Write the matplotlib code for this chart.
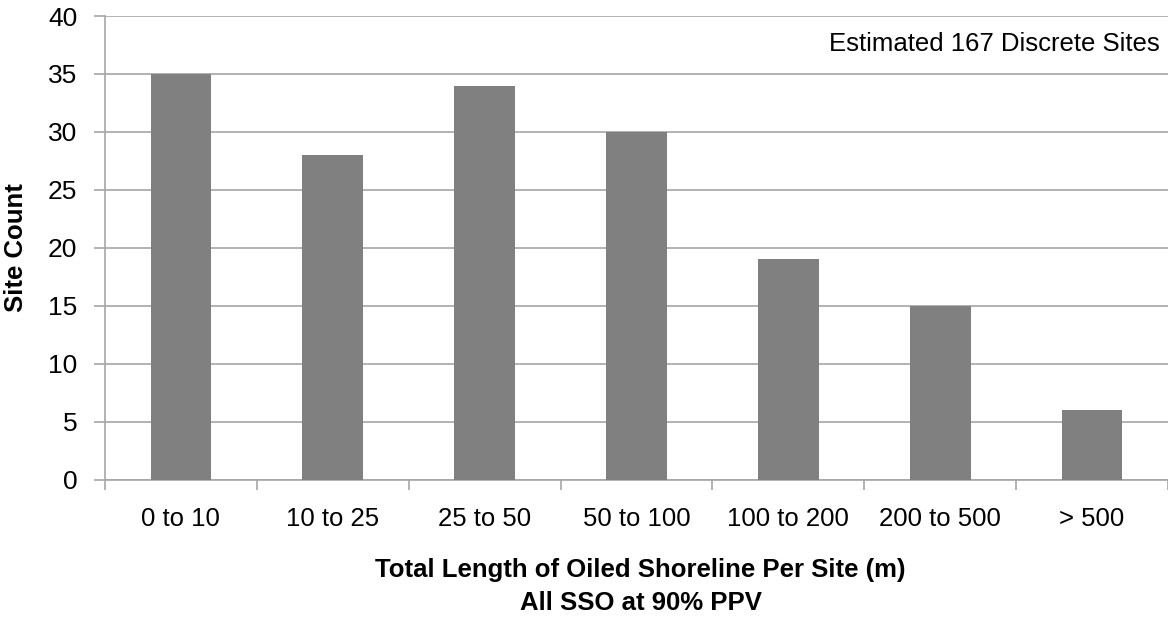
import matplotlib
matplotlib.use("Agg")
import matplotlib.pyplot as plt

categories = ["0 to 10", "10 to 25", "25 to 50", "50 to 100", "100 to 200", "200 to 500", "> 500"]
site_counts = [35, 28, 34, 30, 19, 15, 6]
y_ticks = [0, 5, 10, 15, 20, 25, 30, 35, 40]

plt.rcParams['font.family'] = ['Liberation Sans', 'DejaVu Sans']

W, H = 1168, 617
fig = plt.figure(figsize=(W / 100, H / 100), dpi=100)
# plot area in pixels (the right part of the axis runs off the image)
left, right, top, bottom = 105, 1168, 16, 479.5
cat_px = 153.0
ax = fig.add_axes([left / W, 1 - bottom / H, (right - left) / W, (bottom - top) / H])

x = list(range(len(categories)))
ax.bar(x, site_counts, width=0.4, color="#808080", zorder=3)

ax.set_ylim(0, 40)
ax.set_yticks(y_ticks)
ax.set_xlim(-0.5, -0.5 + (right - left) / cat_px)
ax.set_xticks(x)
ax.set_xticklabels(categories)
ax.set_xticks([i + 0.5 for i in range(-1, len(categories))], minor=True)

ax.grid(axis="y", color="#a6a6a6", linewidth=1.2, zorder=0)
for s in ["top", "right"]:
    ax.spines[s].set_visible(False)
for s in ["left", "bottom"]:
    ax.spines[s].set_color("#a6a6a6")
    ax.spines[s].set_linewidth(1.2)

ax.tick_params(axis="y", length=8, width=1.2, color="#a6a6a6", labelsize=19, pad=12)
ax.tick_params(axis="x", which="major", length=0, labelsize=18.5, pad=20)
ax.tick_params(axis="x", which="minor", length=7, width=1.2, color="#a6a6a6")

fig.text(16 / W, 1 - 247.5 / H, "Site Count", rotation=90, ha="center", va="center",
         fontsize=18.5, fontweight="bold")

cx = (left + left + 7 * cat_px) / 2 / W
fig.text(cx, 1 - 570 / H, "Total Length of Oiled Shoreline Per Site (m)",
         ha="center", va="center", fontsize=18.5, fontweight="bold")
fig.text(cx, 1 - 603 / H, "All SSO at 90% PPV",
         ha="center", va="center", fontsize=18.5, fontweight="bold")

fig.text(1160 / W, 1 - 44 / H, "Estimated 167 Discrete Sites", ha="right", va="center", fontsize=18.5)

fig.savefig("out.png", dpi=100)
